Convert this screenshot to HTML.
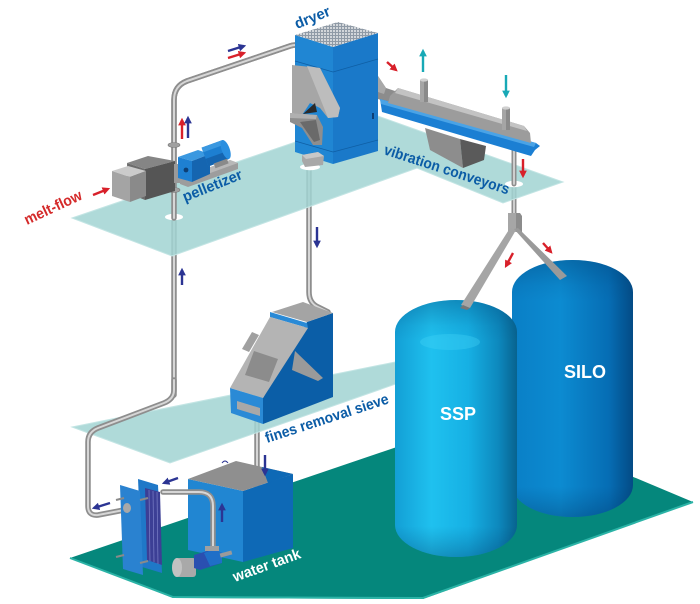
<!DOCTYPE html>
<html><head><meta charset="utf-8">
<style>html,body{margin:0;padding:0;background:#fff}svg{display:block}</style>
</head>
<body>
<svg width="700" height="604" viewBox="0 0 700 604" xmlns="http://www.w3.org/2000/svg">
<defs>
  <marker id="mr" viewBox="0 0 10 10" refX="7" refY="5" markerWidth="3.2" markerHeight="3.2" orient="auto"><path d="M0,0 L10,5 L0,10 z" fill="#d8202a"/></marker>
  <marker id="mb" viewBox="0 0 10 10" refX="7" refY="5" markerWidth="3.2" markerHeight="3.2" orient="auto"><path d="M0,0 L10,5 L0,10 z" fill="#2b3493"/></marker>
  <marker id="mc" viewBox="0 0 10 10" refX="7" refY="5" markerWidth="3.2" markerHeight="3.2" orient="auto"><path d="M0,0 L10,5 L0,10 z" fill="#18a9b6"/></marker>
  <linearGradient id="gssp" x1="0" y1="0" x2="1" y2="0">
    <stop offset="0" stop-color="#139fd5"/>
    <stop offset="0.3" stop-color="#1fc1ef"/>
    <stop offset="0.6" stop-color="#16b0e4"/>
    <stop offset="0.85" stop-color="#0d88bd"/>
    <stop offset="1" stop-color="#08638f"/>
  </linearGradient>
  <linearGradient id="gsilo" x1="0" y1="0" x2="1" y2="0">
    <stop offset="0" stop-color="#0a7fc6"/>
    <stop offset="0.4" stop-color="#0c8bd1"/>
    <stop offset="0.8" stop-color="#066db4"/>
    <stop offset="1" stop-color="#034b85"/>
  </linearGradient>
  <linearGradient id="gdome" x1="0" y1="0" x2="0" y2="1">
    <stop offset="0" stop-color="#003c6e" stop-opacity="0.35"/>
    <stop offset="0.1" stop-color="#003c6e" stop-opacity="0.08"/>
    <stop offset="0.16" stop-color="#003c6e" stop-opacity="0"/>
    <stop offset="0.88" stop-color="#003c6e" stop-opacity="0"/>
    <stop offset="1" stop-color="#002a55" stop-opacity="0.3"/>
  </linearGradient>
  <pattern id="grid" patternUnits="userSpaceOnUse" width="3" height="3">
    <rect width="3" height="3" fill="#8f9aa6"/>
    <rect width="2" height="2" fill="#d2d6da"/>
  </pattern>
</defs>

<rect width="700" height="604" fill="#fff"/>

<!-- bottom plane -->
<polygon points="70,558 488,416 693,502 423,599 173,598" fill="#05877c"/>
<polyline points="70,558 173,597 423,598 693,502" fill="none" stroke="#2bb3a6" stroke-width="2"/>

<!-- pipes behind planes -->
<g fill="none" stroke-linecap="round" stroke-linejoin="round">
  <path d="M174,395 L174,100 Q174,86 187,81 L290,46 Q302,42 302,54 L302,66" stroke="#8e8e8e" stroke-width="5.5"/>
  <path d="M174,395 L174,100 Q174,86 187,81 L290,46 Q302,42 302,54 L302,66" stroke="#d6d6d6" stroke-width="2"/>
  <path d="M309,160 L309,292 Q309,303 318,307 L328,312" stroke="#8e8e8e" stroke-width="5.5"/>
  <path d="M309,160 L309,292 Q309,303 318,307 L328,312" stroke="#d6d6d6" stroke-width="2"/>
  <path d="M257,410 L257,487" stroke="#8e8e8e" stroke-width="5.5"/>
  <path d="M257,410 L257,487" stroke="#d6d6d6" stroke-width="2"/>
  <path d="M514,148 L514,215" stroke="#8e8e8e" stroke-width="5"/>
  <path d="M514,148 L514,215" stroke="#d6d6d6" stroke-width="1.8"/>
</g>

<!-- top plane -->
<polygon points="72,218 375,115 563,182 503,203 417,168 172,256" fill="#a2d4d3" fill-opacity="0.86" stroke="#c3e5e4" stroke-width="1"/>
<!-- middle plane -->
<polygon points="72,427 430,355 430,372 170,463" fill="#a2d4d3" fill-opacity="0.86" stroke="#c3e5e4" stroke-width="1"/>

<!-- holes -->
<ellipse cx="174" cy="217" rx="9" ry="3.2" fill="#fff"/>
<ellipse cx="310" cy="167" rx="10" ry="3.2" fill="#fff"/>
<ellipse cx="514" cy="184" rx="9" ry="3.2" fill="#fff"/>

<!-- pipes in front of planes -->
<g fill="none" stroke-linecap="round" stroke-linejoin="round">
  <path d="M174,218 L174,100 Q174,86 187,81 L290,46 Q302,42 302,54 L302,66" stroke="#8e8e8e" stroke-width="5.5"/>
  <path d="M174,218 L174,100 Q174,86 187,81 L290,46 Q302,42 302,54 L302,66" stroke="#d6d6d6" stroke-width="2"/>
  <path d="M174,380 L174,390 Q174,399 164,403 L98,428 Q88,432 88,442 L88,506 Q88,516 98,515 L124,510" stroke="#8e8e8e" stroke-width="5.5"/>
  <path d="M174,380 L174,390 Q174,399 164,403 L98,428 Q88,432 88,442 L88,506 Q88,516 98,515 L124,510" stroke="#d6d6d6" stroke-width="2"/>
  <path d="M514,148 L514,184" stroke="#8e8e8e" stroke-width="5"/>
  <path d="M514,148 L514,184" stroke="#d6d6d6" stroke-width="1.8"/>
</g>
<!-- flanges on riser -->
<ellipse cx="174" cy="145" rx="6" ry="2.5" fill="#a0a0a0" stroke="#7a7a7a" stroke-width="0.6"/>
<ellipse cx="174" cy="190" rx="6" ry="2.5" fill="#a0a0a0" stroke="#7a7a7a" stroke-width="0.6"/>

<!-- pelletizer -->
<polygon points="127,163 148,156 175,161 145,169" fill="#858585"/>
<polygon points="127,163 145,169 145,200 128,193" fill="#6c6c6c"/>
<polygon points="145,169 175,161 175,191 145,200" fill="#555"/>
<rect x="174" y="164" width="7" height="19" fill="#9a9a9a"/>
<polygon points="112,171 128,166 146,171 130,177" fill="#cbcbcb"/>
<polygon points="112,171 130,177 130,202 112,196" fill="#a4a4a4"/>
<polygon points="130,177 146,171 146,196 130,202" fill="#8a8a8a"/>
<!-- base plate -->
<polygon points="180,178 230,160 238,163 238,169 188,187 180,184" fill="#9d9d9d"/>
<polygon points="180,178 230,160 238,163 188,181" fill="#b8b8b8"/>
<!-- pump body box -->
<polygon points="178,157 198,150 210,154 192,161" fill="#3a98e0"/>
<polygon points="178,157 192,161 192,182 178,178" fill="#1e80d2"/>
<polygon points="192,161 210,154 210,174 192,182" fill="#1565b0"/>
<circle cx="186" cy="170" r="2.4" fill="#0d3f75"/>
<!-- motor cylinder -->
<g transform="translate(205,157) rotate(-20)">
  <rect x="0" y="-10" width="22" height="20" fill="#1d7fd1"/>
  <rect x="0" y="2" width="22" height="8" fill="#1565b0"/>
  <rect x="0" y="-10" width="22" height="5" fill="#3a98e0"/>
  <ellipse cx="22" cy="0" rx="4" ry="10" fill="#2a8fe0"/>
</g>
<rect x="214" y="161" width="14" height="5" fill="#8a8a8a" transform="rotate(-20 221 163)"/>

<!-- dryer -->
<polygon points="295,35 333,47 333,164 295,152" fill="#2086d3"/>
<polygon points="333,47 378,33 378,151 333,164" fill="#1a79c9"/>
<polygon points="295,35 338,22 378,33 333,47" fill="url(#grid)"/>
<g stroke="#0f5fa5" stroke-width="0.8">
  <line x1="295" y1="61" x2="333" y2="72"/>
  <line x1="333" y1="72" x2="378" y2="59"/>
  <line x1="295" y1="141" x2="333" y2="152"/>
  <line x1="333" y1="152" x2="378" y2="140"/>
</g>
<rect x="372" y="113" width="2" height="6" fill="#0d3f75"/>
<!-- dryer gray hood -->
<polygon points="292,65 320,68 340,108 338,117 328,118 320,108 310,103 302,115 292,113" fill="#a6a6a6"/>
<polygon points="307,66 320,68 340,108 338,117 328,118 322,103" fill="#bdbdbd"/>
<polygon points="303,114 315,103 317,112" fill="#2a2a2a"/>
<polygon points="290,113 317,115 323,127 322,145 313,145 302,128 290,122" fill="#8e8e8e"/>
<polygon points="290,113 317,115 316,119 290,118" fill="#b0b0b0"/>
<polygon points="300,122 316,120 320,140 314,142" fill="#6a6a6a"/>
<polygon points="302,155 318,152 324,156 323,165 305,167 302,161" fill="#a8a8a8"/>
<polygon points="302,155 318,152 324,156 306,159" fill="#c8c8c8"/>
<!-- small inlet chute from dryer -->
<polygon points="378,76 386,88 398,92 392,104 378,99" fill="#8c8c8c"/>
<polygon points="378,76 386,88 384,94 378,92" fill="#a8a8a8"/>

<!-- conveyor -->
<polygon points="425,128 460,139 463,168 430,150" fill="#8d8d8d"/>
<polygon points="460,139 486,146 484,160 463,168" fill="#5a5a5a"/>
<polygon points="380,99 536,143 540,146 535,150 531,156 382,112" fill="#1b7fd3"/>
<polygon points="380,99 536,143 534,147 381,104" fill="#4aa3e6"/>
<polygon points="390,96 398,88 524,126 530,133 531,143 388,103" fill="#9c9c9c"/>
<polygon points="398,88 524,126 527,131 395,93" fill="#c3c3c3"/>
<rect x="420" y="80" width="8" height="22" fill="#a5a5a5"/>
<rect x="424" y="80" width="4" height="22" fill="#8a8a8a"/>
<ellipse cx="424" cy="80" rx="4" ry="1.6" fill="#d0d0d0"/>
<rect x="502" y="108" width="8" height="22" fill="#a5a5a5"/>
<rect x="506" y="108" width="4" height="22" fill="#8a8a8a"/>
<ellipse cx="506" cy="108" rx="4" ry="1.6" fill="#d0d0d0"/>

<!-- sieve -->
<polygon points="307,322 333,313 333,397 263,424 263,398" fill="#0b5ea7"/>
<polygon points="272,312 303,302 333,313 307,322" fill="#a4a4a4"/>
<polygon points="270,312 307,323 308,328 270,317" fill="#2a8ad6"/>
<polygon points="270,317 308,328 263,398 230,388" fill="#b4b4b4"/>
<polygon points="254,351 278,359 269,382 245,375" fill="#8c8c8c"/>
<polygon points="295,351 323,378 318,381 292,370" fill="#9a9a9a"/>
<polygon points="252,332 259,335 249,352 242,349" fill="#a0a0a0"/>
<polygon points="230,388 263,398 263,424 231,413" fill="#2a8ad6"/>
<polygon points="237,401 260,408 260,416 237,409" fill="#a8a8a8"/>

<!-- silos -->
<rect x="512" y="260" width="121" height="257" rx="60" ry="32" fill="url(#gsilo)"/>
<rect x="512" y="260" width="121" height="257" rx="60" ry="32" fill="url(#gdome)"/>
<rect x="395" y="300" width="122" height="257" rx="61" ry="32" fill="url(#gssp)"/>
<rect x="395" y="300" width="122" height="257" rx="61" ry="32" fill="url(#gdome)"/>
<ellipse cx="450" cy="342" rx="30" ry="8" fill="#45d3f7" opacity="0.35"/>
<text x="458" y="420" font-family="Liberation Sans, Arial, sans-serif" font-weight="bold" font-size="18" fill="#fff" text-anchor="middle">SSP</text>
<text x="585" y="378" font-family="Liberation Sans, Arial, sans-serif" font-weight="bold" font-size="18" fill="#fff" text-anchor="middle">SILO</text>

<!-- Y chute -->
<polygon points="508,213 520,213 522,216 522,232 508,232" fill="#8c8c8c"/>
<polygon points="508,213 516,213 516,232 508,232" fill="#a6a6a6"/>
<polygon points="510,228 516,230 470,308 461,305" fill="#a5a5a5"/>
<polygon points="514,229 518,228 567,276 560,280" fill="#9a9a9a"/>
<polygon points="463,305 470,308 467,310 460,308" fill="#777"/>

<!-- water tank -->
<polygon points="188,479 243,491 243,562 188,550" fill="#2186d2"/>
<polygon points="243,491 293,474 293,548 243,562" fill="#0e69b6"/>
<polygon points="188,479 236,461 293,474 243,491" fill="#8f8f8f"/>
<polygon points="262,467 293,474 268,483" fill="#0e69b6"/>
<path d="M222,463 q3,-4 6,0" fill="none" stroke="#2b3493" stroke-width="1"/>

<!-- heat exchanger -->
<polygon points="138,479 158,485 162,573 142,567" fill="#1f78c8"/>
<polygon points="145,488 160,492 162,565 147,560" fill="#3c3f95"/>
<g stroke="#7b80c8" stroke-width="0.7">
  <line x1="149" y1="490" x2="150" y2="561"/>
  <line x1="153" y1="491" x2="154" y2="562"/>
  <line x1="157" y1="492" x2="158" y2="564"/>
</g>
<polygon points="120,485 140,491 143,575 123,569" fill="#2a82d0"/>
<g stroke="#8a8a8a" stroke-width="2">
  <line x1="116" y1="500" x2="124" y2="498"/>
  <line x1="116" y1="557" x2="124" y2="555"/>
  <line x1="140" y1="563" x2="148" y2="561"/>
  <line x1="140" y1="500" x2="148" y2="498"/>
</g>
<ellipse cx="127" cy="508" rx="4" ry="5" fill="#a8a8a8"/>

<!-- pump pipe -->
<g fill="none" stroke-linecap="round" stroke-linejoin="round">
  <path d="M213,550 L213,506 Q213,492 199,492 L163,492" stroke="#8e8e8e" stroke-width="5.5"/>
  <path d="M213,550 L213,506 Q213,492 199,492 L163,492" stroke="#d6d6d6" stroke-width="2"/>
</g>
<!-- pump -->
<rect x="176" y="558" width="20" height="19" rx="3" fill="#a9a9a9"/>
<ellipse cx="177" cy="567.5" rx="5" ry="9.5" fill="#c2c2c2"/>
<polygon points="194,555 214,549 222,553 222,563 200,570 194,568" fill="#2a4fb0"/>
<polygon points="204,553 214,549 222,553 222,563 210,566" fill="#1f6fc8"/>
<rect x="220" y="552" width="12" height="4" fill="#9a9a9a" transform="rotate(-15 226 554)"/>
<rect x="205" y="546" width="14" height="5" fill="#a0a0a0"/>

<!-- arrows -->
<g fill="none" stroke-width="2.4">
  <line x1="93" y1="195" x2="108" y2="189" stroke="#d8202a" marker-end="url(#mr)"/>
  <line x1="182" y1="139" x2="182" y2="120" stroke="#d8202a" marker-end="url(#mr)"/>
  <line x1="188" y1="138" x2="188" y2="118" stroke="#2b3493" marker-end="url(#mb)"/>
  <line x1="228" y1="51" x2="244" y2="46" stroke="#2b3493" marker-end="url(#mb)"/>
  <line x1="228" y1="58" x2="244" y2="53" stroke="#d8202a" marker-end="url(#mr)"/>
  <line x1="387" y1="62" x2="396" y2="70" stroke="#d8202a" marker-end="url(#mr)"/>
  <line x1="423" y1="72" x2="423" y2="51" stroke="#18a9b6" marker-end="url(#mc)"/>
  <line x1="506" y1="75" x2="506" y2="96" stroke="#18a9b6" marker-end="url(#mc)"/>
  <line x1="523" y1="159" x2="523" y2="176" stroke="#d8202a" marker-end="url(#mr)"/>
  <line x1="513" y1="253" x2="506" y2="266" stroke="#d8202a" marker-end="url(#mr)"/>
  <line x1="543" y1="243" x2="551" y2="252" stroke="#d8202a" marker-end="url(#mr)"/>
  <line x1="317" y1="227" x2="317" y2="246" stroke="#2b3493" marker-end="url(#mb)"/>
  <line x1="182" y1="285" x2="182" y2="270" stroke="#2b3493" marker-end="url(#mb)"/>
  <line x1="265" y1="455" x2="265" y2="474" stroke="#2b3493" marker-end="url(#mb)"/>
  <line x1="222" y1="522" x2="222" y2="505" stroke="#2b3493" marker-end="url(#mb)"/>
  <line x1="178" y1="478" x2="164" y2="483" stroke="#2b3493" marker-end="url(#mb)"/>
  <line x1="110" y1="503" x2="94" y2="508" stroke="#2b3493" marker-end="url(#mb)"/>
</g>

<!-- labels -->
<g font-family="Liberation Sans, Arial, sans-serif" font-weight="bold" font-size="15">
  <text x="0" y="0" fill="#0b5ca6" textLength="37" lengthAdjust="spacingAndGlyphs" transform="translate(297,29) rotate(-22)">dryer</text>
  <text x="0" y="0" fill="#0b5ca6" textLength="63" lengthAdjust="spacingAndGlyphs" transform="translate(185,202) rotate(-22)">pelletizer</text>
  <text x="0" y="0" fill="#d42a2a" textLength="62" lengthAdjust="spacingAndGlyphs" transform="translate(27,225) rotate(-25)">melt-flow</text>
  <text x="0" y="0" fill="#0b5ca6" textLength="131" lengthAdjust="spacingAndGlyphs" transform="translate(383,154) rotate(18)">vibration conveyors</text>
  <text x="0" y="0" fill="#0b5ca6" textLength="129" lengthAdjust="spacingAndGlyphs" transform="translate(267,443) rotate(-18)">fines removal sieve</text>
  <text x="0" y="0" fill="#ffffff" textLength="71" lengthAdjust="spacingAndGlyphs" transform="translate(235,582) rotate(-20)">water tank</text>
</g>
</svg>
</body></html>
